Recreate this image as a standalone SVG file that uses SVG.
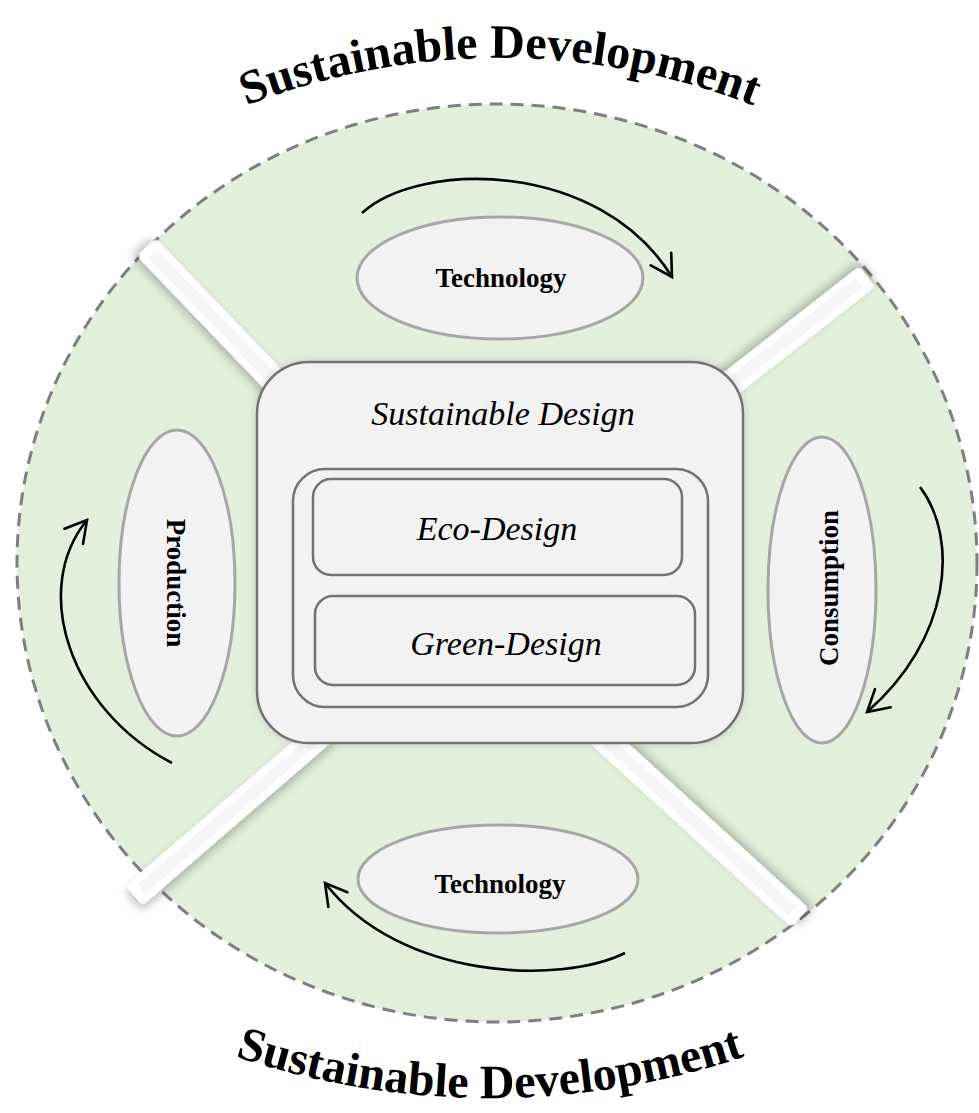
<svg xmlns="http://www.w3.org/2000/svg" width="979" height="1113" viewBox="0 0 979 1113">
<defs>
<style>
.title{font-family:"Liberation Serif","Times New Roman",serif;font-weight:bold;font-size:48px;fill:#000}
.lbl{font-family:"Liberation Serif","Times New Roman",serif;font-weight:bold;font-size:27px;fill:#000}
.ital{font-family:"Liberation Serif","Times New Roman",serif;font-style:italic;font-size:34px;fill:#000}
.ell{fill:#f2f2f2;stroke:#a6a6a6;stroke-width:3}
.box{fill:#f2f2f2;stroke:#767171;stroke-width:2.5}
.arrow{fill:none;stroke:#000;stroke-width:2.6;marker-end:url(#arr)}
</style>
<marker id="arr" viewBox="0 0 26 28" refX="23" refY="14" markerWidth="26" markerHeight="28" orient="auto" markerUnits="userSpaceOnUse">
<path d="M2,2 L23,14 L2,26" fill="none" stroke="#000" stroke-width="2.6" stroke-linecap="round" stroke-linejoin="miter"/>
</marker>
<filter id="sh" x="-30%" y="-60%" width="160%" height="220%">
<feDropShadow dx="-4" dy="4" stdDeviation="5" flood-color="#000" flood-opacity="0.25"/>
</filter>
<filter id="bsh" x="-10%" y="-10%" width="120%" height="120%">
<feDropShadow dx="0" dy="0" stdDeviation="4" flood-color="#000" flood-opacity="0.15"/>
</filter>
<filter id="blur1"><feGaussianBlur stdDeviation="1"/></filter>
<path id="arcTop" d="M150,151.8 A700,700 0 0 1 850,151.8"/>
<path id="arcBot" d="M140,1017.4 A800,800 0 0 0 840,1017.4"/>
</defs>

<g id="background">
<ellipse cx="497" cy="563" rx="480" ry="459" fill="#e2efda" stroke="#7f7f7f" stroke-width="3" stroke-dasharray="13,8"/>
</g>

<g id="bars">
<g transform="translate(149,250) rotate(46.2)">
<rect x="-4" y="-13" width="210" height="26" rx="5" fill="#fff" filter="url(#sh)"/>
<rect x="6" y="-6" width="200" height="12" fill="#f6f6f6"/>
<line x1="7" y1="-5" x2="206" y2="-5" stroke="#a8a8a8" stroke-width="2.5" filter="url(#blur1)"/>
</g>
<g transform="translate(864,279) rotate(141.9)">
<rect x="-4" y="-13" width="195" height="26" rx="5" fill="#fff" filter="url(#sh)"/>
<rect x="6" y="-6" width="185" height="12" fill="#f6f6f6"/>
<line x1="7" y1="5" x2="191" y2="5" stroke="#a8a8a8" stroke-width="2.5" filter="url(#blur1)"/>
</g>
<g transform="translate(137,893) rotate(-40.8)">
<rect x="-4" y="-13" width="255" height="26" rx="5" fill="#fff" filter="url(#sh)"/>
<rect x="6" y="-6" width="245" height="12" fill="#f6f6f6"/>
<line x1="7" y1="-5" x2="251" y2="-5" stroke="#a8a8a8" stroke-width="2.5" filter="url(#blur1)"/>
</g>
<g transform="translate(797,915) rotate(-137.6)">
<rect x="-4" y="-13" width="275" height="26" rx="5" fill="#fff" filter="url(#sh)"/>
<rect x="6" y="-6" width="265" height="12" fill="#f6f6f6"/>
<line x1="7" y1="5" x2="271" y2="5" stroke="#a8a8a8" stroke-width="2.5" filter="url(#blur1)"/>
</g>
</g>

<g id="sustainable-design">
<rect class="box" x="257" y="362" width="486" height="381" rx="52" filter="url(#bsh)"/>
<text class="ital" x="503" y="425" text-anchor="middle">Sustainable Design</text>
<rect class="box" x="293" y="469" width="415" height="238" rx="32"/>
</g>
<g id="eco-design">
<rect class="box" x="313" y="479" width="369" height="96" rx="18" stroke-width="3"/>
<text class="ital" x="497" y="540" text-anchor="middle">Eco-Design</text>
</g>
<g id="green-design">
<rect class="box" x="315" y="596" width="380" height="89" rx="18" stroke-width="3"/>
<text class="ital" x="506" y="655" text-anchor="middle">Green-Design</text>
</g>

<g id="technology-top">
<ellipse class="ell" cx="500" cy="278" rx="143" ry="61"/>
<text class="lbl" x="501" y="287" text-anchor="middle">Technology</text>
</g>
<g id="technology-bottom">
<ellipse class="ell" cx="498" cy="879" rx="140" ry="54"/>
<text class="lbl" x="500" y="893" text-anchor="middle">Technology</text>
</g>
<g id="production">
<ellipse class="ell" cx="177" cy="583" rx="58" ry="153"/>
<text class="lbl" transform="translate(167,583) rotate(90)" text-anchor="middle">Production</text>
</g>
<g id="consumption">
<ellipse class="ell" cx="822" cy="590" rx="54" ry="153"/>
<text class="lbl" transform="translate(838,588) rotate(-90)" text-anchor="middle">Consumption</text>
</g>

<g id="connectors">
<path class="arrow" d="M362,213 C420,160 600,160 672,277"/>
<path class="arrow" d="M920,487 C960,540 950,640 867,712"/>
<path class="arrow" d="M625,953 C560,985 400,980 325,883"/>
<path class="arrow" d="M172,763 C70,710 30,590 87,520"/>
</g>

<g id="titles">
<text class="title"><textPath href="#arcTop" startOffset="50%" text-anchor="middle">Sustainable Development</textPath></text>
<text class="title"><textPath href="#arcBot" startOffset="50%" text-anchor="middle">Sustainable Development</textPath></text>
</g>
</svg>
